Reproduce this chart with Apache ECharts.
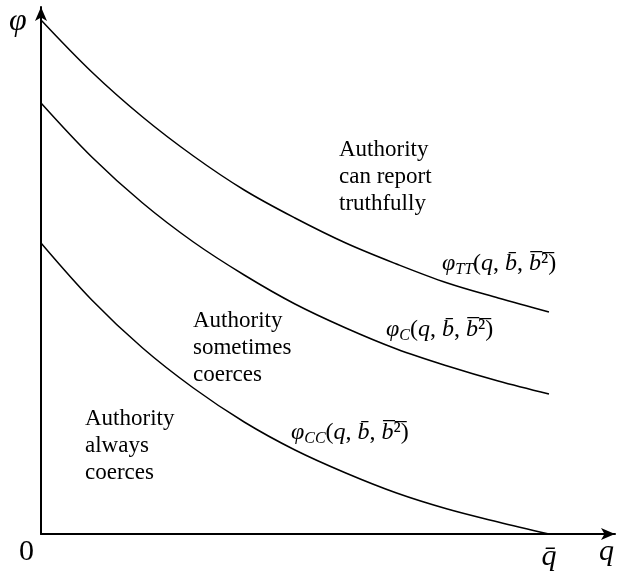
<!DOCTYPE html>
<html>
<head>
<meta charset="utf-8">
<script src="https://cdn.jsdelivr.net/npm/echarts@6/dist/echarts.min.js"></script>
<style>
  html, body { margin: 0; padding: 0; background: #fff; }
  #chart { width: 617px; height: 574px; }
</style>
</head>
<body>
<div id="chart"></div>
<script>
// q as a share of q-bar
const qValues = [0, 0.1, 0.2, 0.3, 0.4, 0.5, 0.6, 0.7, 0.8, 0.9, 1.0];
// threshold curves (phi)
const phiTT = [5.14, 4.62, 4.17, 3.78, 3.44, 3.16, 2.91, 2.70, 2.51, 2.36, 2.22];
const phiC  = [4.31, 3.77, 3.31, 2.92, 2.59, 2.30, 2.06, 1.85, 1.68, 1.53, 1.40];
const phiCC = [2.91, 2.34, 1.86, 1.46, 1.12, 0.84, 0.61, 0.41, 0.25, 0.12, 0.00];
// x tick: q-bar sits at q = 1
const xTickValues = [1];
const xTickLabels = ['q\u0304'];

const SERIF = 'Liberation Serif';
const chart = echarts.init(document.getElementById('chart'), null, { renderer: 'canvas' });

function pairs(ys) { return qValues.map((x, i) => [x, ys[i]]); }

function curve(name, ys) {
  return {
    name: name, type: 'line', data: pairs(ys), smooth: 0.35,
    symbol: 'none', silent: true,
    lineStyle: { color: '#000', width: 1.5 }
  };
}

const mathRich = {
  m: { fontFamily: SERIF, fontStyle: 'italic', fontSize: 24, lineHeight: 28, fill: '#000' },
  r: { fontFamily: SERIF, fontSize: 24, lineHeight: 28, fill: '#000' },
  g: { fontFamily: SERIF, fontSize: 24, lineHeight: 28, fill: '#000', width: 4 },
  s: { fontFamily: SERIF, fontStyle: 'italic', fontSize: 16, lineHeight: 16, verticalAlign: 'bottom', fill: '#000' }
};
function phiLabel(sub) {
  return '{m|\u03c6}{s|' + sub + '}{r|(}{m|q}{r|, }{m|b\u0304}{r|, }{m|b\u0305}{r|\u00b2\u0305}{r|)}';
}
function mathText(x, y, sub) {
  return { type: 'text', x: x, y: y, silent: true,
    style: { text: phiLabel(sub), rich: mathRich, fill: '#000' } };
}
function regionText(x, y, lines) {
  return { type: 'text', x: x, y: y, silent: true,
    style: { text: lines.join('\n'), font: '23px "' + SERIF + '"', lineHeight: 27, fill: '#000' } };
}

chart.setOption({
  animation: false,
  grid: { left: 41, right: 2, top: 7, bottom: 40, outerBoundsMode: 'none' },
  xAxis: {
    type: 'value', min: 0, max: 1.13,
    axisLine: { lineStyle: { color: '#000', width: 2 }, symbol: ['none', 'arrow'], symbolSize: [9, 14] },
    axisTick: { show: false },
    splitLine: { show: false },
    axisLabel: {
      customValues: xTickValues,
      formatter: v => xTickLabels[xTickValues.indexOf(v)] || '',
      fontFamily: SERIF, fontStyle: 'italic', fontSize: 30, color: '#000', margin: 8
    }
  },
  yAxis: {
    type: 'value', min: 0, max: 5.27,
    axisLine: { show: true, onZero: false, lineStyle: { color: '#000', width: 2 }, symbol: ['none', 'arrow'], symbolSize: [9, 14] },
    axisTick: { show: false },
    splitLine: { show: false },
    axisLabel: { show: false }
  },
  series: [curve('phiTT', phiTT), curve('phiC', phiC), curve('phiCC', phiCC)],
  graphic: [
    { type: 'text', x: 9, y: 6, silent: true, style: { text: '\u03c6', font: 'italic 32px "' + SERIF + '"', fill: '#000' } },
    { type: 'text', x: 19, y: 537, silent: true, style: { text: '0', font: '30px "' + SERIF + '"', fill: '#000' } },
    { type: 'text', x: 599, y: 537, silent: true, style: { text: 'q', font: 'italic 30px "' + SERIF + '"', fill: '#000' } },
    mathText(442, 250, 'TT'),
    mathText(386, 316, 'C'),
    mathText(291, 419, 'CC'),
    regionText(339, 136, ['Authority', 'can report', 'truthfully']),
    regionText(193, 307, ['Authority', 'sometimes', 'coerces']),
    regionText(85, 405, ['Authority', 'always', 'coerces'])
  ]
});
</script>
</body>
</html>
